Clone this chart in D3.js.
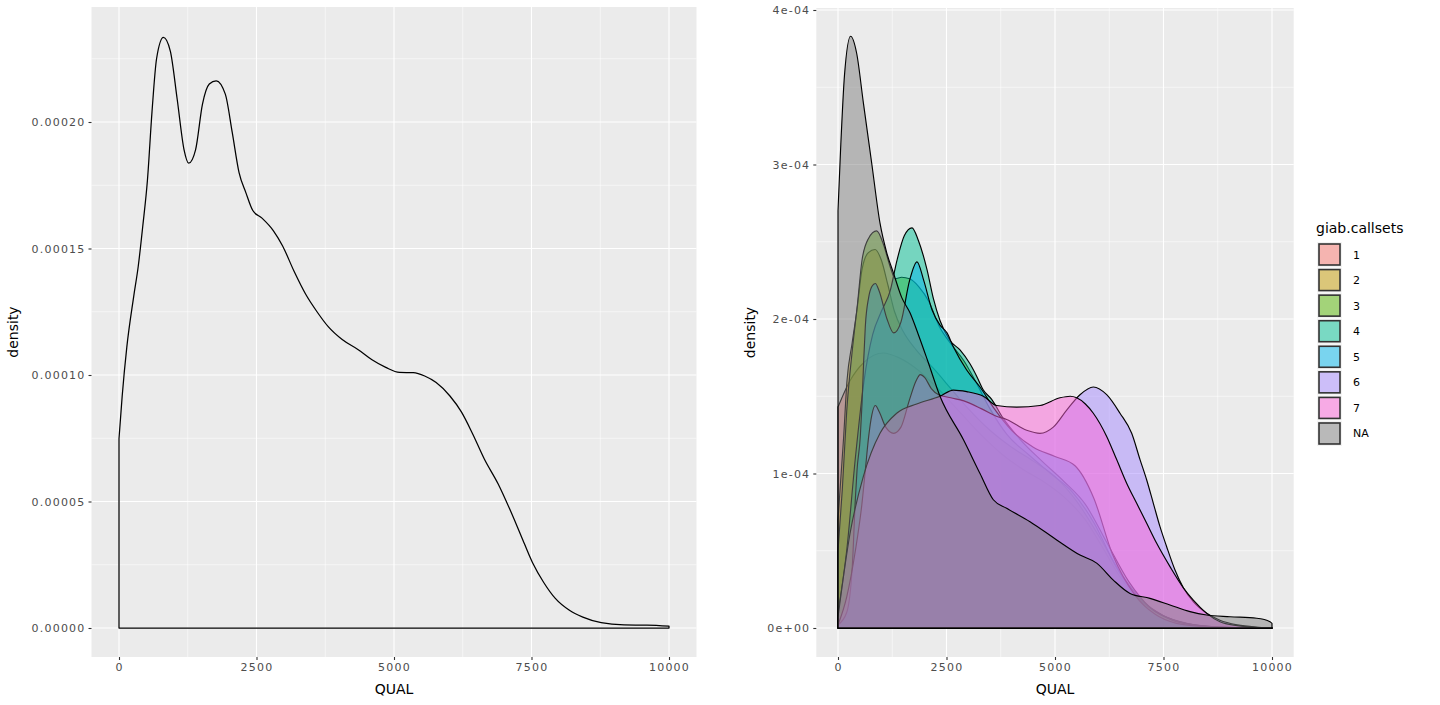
<!DOCTYPE html>
<html><head><meta charset="utf-8">
<script src="https://cdn.jsdelivr.net/npm/d3@7"></script>
<style>
html,body{margin:0;padding:0;background:#fff;}
svg{display:block;}
text{font-family:"DejaVu Sans",sans-serif;}
</style></head>
<body><svg id="chart" width="1440" height="705"></svg>
<script>
// ---------- DATA ----------
const xTicks = [0, 2500, 5000, 7500, 10000];
const xTickLabels = ["0", "2500", "5000", "7500", "10000"];
const xMinor = [1250, 3750, 6250, 8750];

const leftYTicks = [0, 0.00005, 0.0001, 0.00015, 0.0002];
const leftYTickLabels = ["0.00000", "0.00005", "0.00010", "0.00015", "0.00020"];
const leftYMinor = [0.000025, 0.000075, 0.000125, 0.000175, 0.000225];

const rightYTicks = [0, 0.0001, 0.0002, 0.0003, 0.0004];
const rightYTickLabels = ["0e+00", "1e-04", "2e-04", "3e-04", "4e-04"];
const rightYMinor = [0.00005, 0.00015, 0.00025, 0.00035];

// overall density of QUAL (left panel)
const overallQual = [0, 58, 142, 267, 350, 433, 517, 600, 683, 808, 933, 1058, 1183, 1267, 1392, 1517, 1642, 1767, 1933, 2058, 2183, 2308, 2433, 2600, 2808, 2975, 3183, 3392, 3600, 3808, 4058, 4350, 4600, 4850, 5100, 5350, 5558, 5767, 6017, 6225, 6433, 6642, 6892, 7100, 7308, 7517, 7725, 7933, 8183, 8433, 8767, 9183, 9600, 10000];
const overallDensity = [0.0000748, 0.0000917, 0.000111, 0.000131, 0.000143, 0.000159, 0.000177, 0.000204, 0.000225, 0.0002334, 0.000228, 0.000209, 0.000189, 0.0001837, 0.000189, 0.000207, 0.000215, 0.0002163, 0.000211, 0.000196, 0.00018, 0.000172, 0.000165, 0.000162, 0.000157, 0.000151, 0.000141, 0.000132, 0.000125, 0.000119, 0.000114, 0.00011, 0.000106, 0.000103, 0.000101, 0.0001009, 0.0000996, 0.000097, 0.0000917, 0.0000854, 0.0000766, 0.0000668, 0.000057, 0.0000472, 0.0000366, 0.0000259, 0.0000179, 0.0000117, 0.0000071, 0.0000043, 0.0000021, 0.0000012, 0.0000011, 0.0000007];

// per-callset densities (right panel), [QUAL, density]
const callsets = ["1", "2", "3", "4", "5", "6", "7", "NA"];
const callsetColors = ["#F8766D", "#C49A00", "#53B400", "#00C094", "#00B6EB", "#A58AFF", "#FB61D7", "#7F7F7F"];

const dens1 = [[0,0.000143],[276,0.00016],[600,0.000172],[1044,0.000178],[1400,0.000175],[1800,0.000168],[2300,0.000155],[2800,0.00014],[3300,0.000125],[3800,0.000112],[4300,0.000102],[4724,0.000095],[5200,0.000085],[5700,0.00007],[6100,0.000052],[6500,0.000033],[7000,0.000017],[7500,0.000008],[8000,0.000003],[8600,0.000001],[9300,0.0000002],[10000,0]];
const dens2 = [[0,0.00007],[131,0.000124],[207,0.00016],[323,0.000184],[438,0.000206],[553,0.000232],[700,0.000243],[853,0.000245],[1000,0.000238],[1150,0.000222],[1300,0.000205],[1500,0.000192],[1800,0.00018],[2200,0.000168],[2600,0.000155],[3000,0.000142],[3500,0.000128],[4000,0.000117],[4500,0.000108],[5000,0.000098],[5500,0.000082],[6000,0.00006],[6500,0.000036],[7000,0.000018],[7500,0.000008],[8000,0.000003],[8600,0.000001],[9500,0.0000001],[10000,0]];
const dens3 = [[0,0.00005],[100,0.00009],[200,0.00014],[330,0.00018],[450,0.00021],[553,0.000238],[700,0.000252],[891,0.000257],[1050,0.000248],[1200,0.000234],[1320,0.000226],[1467,0.000227],[1650,0.000226],[1859,0.000221],[2100,0.000211],[2320,0.000196],[2627,0.000183],[2900,0.000173],[3200,0.000158],[3500,0.000142],[3900,0.000125],[4400,0.000112],[4900,0.0001],[5400,0.000088],[5900,0.000068],[6400,0.00004],[6900,0.00002],[7400,0.000009],[7900,0.000004],[8500,0.000001],[9500,0.0000001],[10000,0]];
const dens4 = [[0,0.00001],[200,0.00005],[400,0.00011],[600,0.00016],[800,0.00019],[1000,0.000205],[1200,0.000218],[1359,0.000238],[1530,0.000254],[1705,0.000259],[1850,0.000251],[2051,0.000232],[2200,0.000213],[2350,0.000199],[2581,0.000186],[2811,0.00018],[3041,0.000171],[3195,0.000163],[3349,0.000154],[3541,0.000148],[3800,0.000136],[4200,0.000122],[4700,0.000108],[5200,0.000095],[5700,0.00008],[6200,0.000055],[6700,0.00003],[7200,0.000013],[7700,0.000005],[8300,0.0000015],[9000,0.0000002],[10000,0]];
const dens5 = [[0,0.000002],[200,0.00001],[330,0.00004],[399,0.000083],[438,0.000102],[514,0.000124],[553,0.000145],[592,0.000173],[629,0.000195],[707,0.000214],[780,0.000221],[860,0.000223],[950,0.000218],[1129,0.0002],[1283,0.000191],[1450,0.000198],[1650,0.000225],[1820,0.000237],[1975,0.000225],[2166,0.000206],[2350,0.000196],[2512,0.000191],[2657,0.000182],[2965,0.000167],[3272,0.000156],[3600,0.000142],[4000,0.000128],[4500,0.000117],[5000,0.000111],[5461,0.000105],[5894,0.000084],[6320,0.000048],[6850,0.000021],[7300,0.000009],[7800,0.000003],[8400,0.000001],[9200,0.0000001],[10000,0]];
const dens6 = [[0,0.000002],[200,0.00002],[400,0.00005],[550,0.00008],[629,0.000102],[707,0.000124],[780,0.000138],[860,0.000144],[950,0.00014],[1100,0.00013],[1283,0.000126],[1450,0.00013],[1650,0.000148],[1800,0.00016],[1896,0.000164],[2000,0.000162],[2150,0.000155],[2320,0.000151],[2600,0.000149],[2900,0.000147],[3300,0.000142],[3650,0.000137],[3886,0.000135],[4347,0.000128],[4654,0.000126],[4961,0.00013],[5269,0.000141],[5576,0.000151],[5883,0.000156],[6191,0.000151],[6498,0.000139],[6767,0.000126],[6959,0.000109],[7113,0.0000958],[7266,0.0000807],[7419,0.0000656],[7573,0.0000526],[7765,0.0000375],[7957,0.000026],[8187,0.000017],[8495,0.0000095],[8800,0.000005],[9200,0.000002],[9700,0.0000005],[10000,0]];
const dens7 = [[0,0.000007],[276,0.000061],[583,0.000098],[968,0.000126],[1352,0.000139],[1813,0.000145],[2350,0.00015],[2657,0.000154],[2965,0.000153],[3349,0.00015],[3656,0.000144],[4117,0.000143],[4654,0.000144],[5115,0.000149],[5350,0.00015],[5500,0.000149],[5700,0.000145],[5883,0.000139],[6191,0.000124],[6421,0.000109],[6651,0.0000937],[6882,0.0000807],[7113,0.0000678],[7343,0.0000548],[7650,0.0000397],[7957,0.000026],[8187,0.000018],[8495,0.0000095],[8800,0.000004],[9200,0.0000015],[9700,0.0000003],[10000,0]];
const densNA = [[0,0.00027],[60,0.00031],[150,0.000358],[290,0.000383],[430,0.000372],[584,0.00034],[776,0.000301],[968,0.000262],[1122,0.000243],[1275,0.00023],[1467,0.000214],[1659,0.000204],[1850,0.00019],[2066,0.000173],[2350,0.00015],[2888,0.000122],[3272,0.0001],[3579,0.000083],[3886,0.0000775],[4424,0.0000688],[5039,0.000057],[5576,0.0000472],[5960,0.000042],[6344,0.000031],[6728,0.0000224],[7189,0.0000192],[7650,0.0000149],[8111,0.0000106],[8495,0.0000084],[9032,0.0000073],[9647,0.0000063],[9954,0.0000041],[10000,0.000003]];
const callsetDensities = [dens1, dens2, dens3, dens4, dens5, dens6, dens7, densNA];

// ---------- DRAWING ----------
const svg = d3.select("#chart");

function panel(opts) {
  const g = svg.append("g");
  const x = d3.scaleLinear().domain([-500, 10500]).range([opts.x0, opts.x1]);
  const y = d3.scaleLinear().domain(opts.yDomain).range([opts.y1, opts.y0]);
  g.append("rect").attr("x", opts.x0).attr("y", opts.y0)
    .attr("width", opts.x1 - opts.x0).attr("height", opts.y1 - opts.y0).attr("fill", "#EBEBEB");
  g.selectAll(".vminor").data(xMinor).join("line")
    .attr("x1", d => x(d)).attr("x2", d => x(d)).attr("y1", opts.y0).attr("y2", opts.y1)
    .attr("stroke", "#fff").attr("stroke-width", 0.55);
  g.selectAll(".hminor").data(opts.yMinor).join("line")
    .attr("y1", d => y(d)).attr("y2", d => y(d)).attr("x1", opts.x0).attr("x2", opts.x1)
    .attr("stroke", "#fff").attr("stroke-width", 0.55);
  g.selectAll(".vmajor").data(xTicks).join("line")
    .attr("x1", d => x(d)).attr("x2", d => x(d)).attr("y1", opts.y0).attr("y2", opts.y1)
    .attr("stroke", "#fff").attr("stroke-width", 1.1);
  g.selectAll(".hmajor").data(opts.yTicks).join("line")
    .attr("y1", d => y(d)).attr("y2", d => y(d)).attr("x1", opts.x0).attr("x2", opts.x1)
    .attr("stroke", "#fff").attr("stroke-width", 1.1);

  const xAxis = d3.axisBottom(x).tickValues(xTicks).tickFormat((d, i) => xTickLabels[i]).tickSize(3).tickPadding(3);
  const ga = g.append("g").attr("transform", `translate(0,${opts.y1})`).call(xAxis);
  const yAxis = d3.axisLeft(y).tickValues(opts.yTicks).tickFormat((d, i) => opts.yLabels[i]).tickSize(3).tickPadding(3);
  const gy = g.append("g").attr("transform", `translate(${opts.x0},0)`).call(yAxis);
  [ga, gy].forEach(a => {
    a.attr("font-family", null).attr("font-size", null);
    a.select(".domain").remove();
    a.selectAll(".tick line").attr("stroke", "#333").attr("stroke-width", 1.1);
    a.selectAll(".tick text").attr("fill", "#4D4D4D").style("font-size", "11px")
      .style("letter-spacing", "1.2px").style("font-family", "'DejaVu Sans', sans-serif");
  });

  g.append("text").attr("x", (opts.x0 + opts.x1) / 2).attr("y", 694)
    .attr("text-anchor", "middle").style("font-size", "14px").attr("fill", "#000").text("QUAL");
  g.append("text").attr("transform", `translate(${opts.titleX},${(opts.y0 + opts.y1) / 2}) rotate(-90)`)
    .attr("text-anchor", "middle").style("font-size", "14px").attr("fill", "#000").text("density");
  return {g, x, y};
}

// Left panel: 0 -> y 628, 0.0002 -> y 122
const L = panel({x0: 91.5, x1: 696.5, y0: 7, y1: 657,
  yDomain: [(628 - 657) / 2530000, (628 - 7) / 2530000],
  yTicks: leftYTicks, yLabels: leftYTickLabels, yMinor: leftYMinor, titleX: 18});
const leftData = overallQual.map((q, i) => [q, overallDensity[i]]);
const leftArea = d3.area().x(d => L.x(d[0])).y0(L.y(0)).y1(d => L.y(d[1])).curve(d3.curveMonotoneX);
L.g.append("path").datum(leftData).attr("d", leftArea)
  .attr("fill", "none").attr("stroke", "#000").attr("stroke-width", 1.25).attr("stroke-linejoin", "round");

// Right panel: 0 -> y 628, 4e-4 -> y 10
const R = panel({x0: 816.3, x1: 1293.7, y0: 8, y1: 657,
  yDomain: [(628 - 657) / 1545000, (628 - 8) / 1545000],
  yTicks: rightYTicks, yLabels: rightYTickLabels, yMinor: rightYMinor, titleX: 755});
const rightArea = d3.area().x(d => R.x(d[0])).y0(R.y(0)).y1(d => R.y(d[1])).curve(d3.curveMonotoneX);
callsetDensities.forEach((dd, i) => {
  R.g.append("path").datum(dd).attr("d", rightArea)
    .attr("fill", callsetColors[i]).attr("fill-opacity", 0.5)
    .attr("stroke", "#000").attr("stroke-width", 1.15).attr("stroke-linejoin", "round");
});

// Legend
const leg = svg.append("g");
leg.append("text").attr("x", 1316).attr("y", 233).style("font-size", "14px").attr("fill", "#000").text("giab.callsets");
const keyStep = 25.57;
callsets.forEach((c, i) => {
  const cy = 254.5 + i * keyStep;
  leg.append("rect").attr("x", 1317).attr("y", cy - 12.5).attr("width", 25).attr("height", 25).attr("fill", "#F2F2F2");
  leg.append("rect").attr("x", 1319).attr("y", cy - 10.5).attr("width", 21).attr("height", 21)
    .attr("fill", callsetColors[i]).attr("fill-opacity", 0.5).attr("stroke", "#333").attr("stroke-width", 1.6);
  leg.append("text").attr("x", 1353).attr("y", cy + 4).style("font-size", "11px").attr("fill", "#000").text(c);
});
</script>
</body></html>
